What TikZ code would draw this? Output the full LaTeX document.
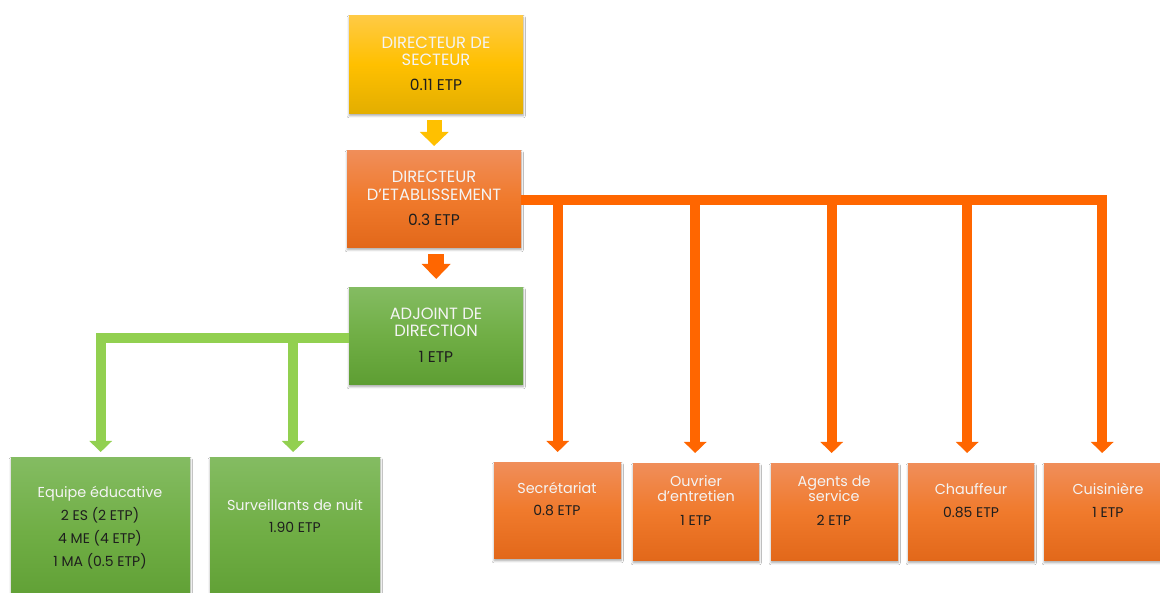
\documentclass[tikz,border=0pt]{standalone}
\usepackage{fontspec}
\setmainfont{Poppins}
\usetikzlibrary{arrows.meta,shadows.blur}
\definecolor{yTop}{HTML}{FFCA45}
\definecolor{yMid}{HTML}{FFC000}
\definecolor{yBot}{HTML}{E3AE00}
\definecolor{oTop}{HTML}{F08E5A}
\definecolor{oMid}{HTML}{F07A2C}
\definecolor{oBot}{HTML}{E2681A}
\definecolor{gTop}{HTML}{84BC62}
\definecolor{gMid}{HTML}{70AE45}
\definecolor{gBot}{HTML}{5E9E33}
\definecolor{yArr}{HTML}{FFC000}
\definecolor{oArr}{HTML}{FF6600}
\definecolor{gArr}{HTML}{92D050}
\definecolor{tLight}{HTML}{F4F4F4}
\definecolor{tDark}{HTML}{1E1E1E}
\newcommand{\tl}[1]{\textcolor{tLight}{#1}}
\newcommand{\td}[1]{\textcolor{tDark}{#1}}
\newcommand{\tdt}[1]{{\fontsize{15.5}{17.5}\selectfont\textcolor{tDark}{#1}}}
\newcommand{\tdb}[1]{{\fontsize{14}{15}\selectfont\textcolor{tDark}{#1}}}
\begin{document}
\begin{tikzpicture}[x=1pt,y=-1pt,
  box/.style={rectangle, inner sep=0pt, anchor=north west,
    blur shadow={shadow xshift=0pt, shadow yshift=-2.5pt, shadow blur steps=6, shadow opacity=35}},
  ybox/.style={box, top color=yTop, bottom color=yBot, middle color=yMid},
  obox/.style={box, top color=oTop, bottom color=oBot, middle color=oMid},
  gbox/.style={box, top color=gTop, bottom color=gBot, middle color=gMid},
  toptxt/.style={align=center, inner sep=0pt, font=\fontsize{16.3}{17.5}\selectfont},
  bottxt/.style={align=center, inner sep=0pt, font=\fontsize{14.4}{15}\selectfont},
  oconn/.style={draw=oArr, line width=10pt, -{Triangle[width=22pt,length=11pt]}},
  gconn/.style={draw=gArr, line width=10pt, -{Triangle[width=22pt,length=11pt]}},
  bigarrow/.style={line width=15pt, -{Triangle[width=28pt,length=14pt]}}
]
\useasboundingbox (0,0) rectangle (1160,593);
\fill[white] (0,0) rectangle (1160,593);

% boxes
\node[ybox, minimum width=174pt, minimum height=98pt] (ds) at (349,15) {};
\node[obox, minimum width=174pt, minimum height=97pt] (de) at (347,150) {};
\node[gbox, minimum width=174pt, minimum height=97pt] (ad) at (349,287) {};
\node[gbox, minimum width=179pt, minimum height=150pt] (eq) at (11,457) {};
\node[gbox, minimum width=170pt, minimum height=150pt] (sv) at (210,457) {};
\node[obox, minimum width=127pt, minimum height=96pt] (sec) at (494,462) {};
\node[obox, minimum width=126pt, minimum height=97pt] (ow) at (633,463) {};
\node[obox, minimum width=127pt, minimum height=97pt] (ag) at (771,463) {};
\node[obox, minimum width=126pt, minimum height=97pt] (ch) at (908,463) {};
\node[obox, minimum width=128pt, minimum height=97pt] (cu) at (1044,463) {};

% texts
\node[toptxt] (dsT) at (436,63.5) {\tl{DIRECTEUR DE}\\\tl{SECTEUR}\\[7pt]\tdt{0.11 ETP}};
\node[toptxt] (deT) at (434,198.5) {\tl{DIRECTEUR}\\\tl{D'ETABLISSEMENT}\\[8pt]\tdt{0.3 ETP}};
\node[toptxt] (adT) at (436,335) {\tl{ADJOINT DE}\\\tl{DIRECTION}\\[8pt]\tdt{1 ETP}};
\node[bottxt, font=\fontsize{14.4}{23}\selectfont] (eqT) at (100,528) {\tl{Equipe éducative}\\\tdb{2 ES (2 ETP)}\\\tdb{4 ME (4 ETP)}\\\tdb{1 MA (0.5 ETP)}};
\node[bottxt, font=\fontsize{14.4}{22}\selectfont] (svT) at (295,516) {\tl{Surveillants de nuit}\\\tdb{1.90 ETP}};
\node[bottxt, font=\fontsize{14.4}{22}\selectfont] (secT) at (557,499) {\tl{Secrétariat}\\\tdb{0.8 ETP}};
\node[bottxt] (owT) at (696,501) {\tl{Ouvrier}\\\tl{d'entretien}\\[9pt]\tdb{1 ETP}};
\node[bottxt] (agT) at (834,501) {\tl{Agents de}\\\tl{service}\\[9pt]\tdb{2 ETP}};
\node[bottxt, font=\fontsize{14.4}{23}\selectfont] (chT) at (971,500.5) {\tl{Chauffeur}\\\tdb{0.85 ETP}};
\node[bottxt, font=\fontsize{14.4}{23}\selectfont] (cuT) at (1108,500.5) {\tl{Cuisinière}\\\tdb{1 ETP}};

% vertical chain arrows
\draw[bigarrow, draw=yArr] ([xshift=-2pt,yshift=-7pt]ds.south) -- ([yshift=4pt]de.north);
\draw[bigarrow, draw=oArr, line width=16pt, -{Triangle[width=28pt,length=15pt]}] ([xshift=2pt,yshift=-7pt]de.south) -- ([yshift=8pt]ad.north);

% orange connectors
\coordinate (obar) at (521,200);
\draw[oconn] (obar) -| ([xshift=-6pt,yshift=10pt]cu.north);
\draw[oconn] (sec.north |- obar) -- ([yshift=10pt]sec.north);
\draw[oconn] ([xshift=-1pt]ow.north |- obar) -- ([xshift=-1pt,yshift=10pt]ow.north);
\draw[oconn] ([xshift=-3pt]ag.north |- obar) -- ([xshift=-3pt,yshift=10pt]ag.north);
\draw[oconn] ([xshift=-4pt]ch.north |- obar) -- ([xshift=-4pt,yshift=10pt]ch.north);

% green connectors
\coordinate (gbar) at (349,338);
\draw[gconn] (gbar) -| ([yshift=5pt]eq.north);
\draw[gconn] ([xshift=-2pt]sv.north |- gbar) -- ([xshift=-2pt,yshift=5pt]sv.north);
\end{tikzpicture}
\end{document}
